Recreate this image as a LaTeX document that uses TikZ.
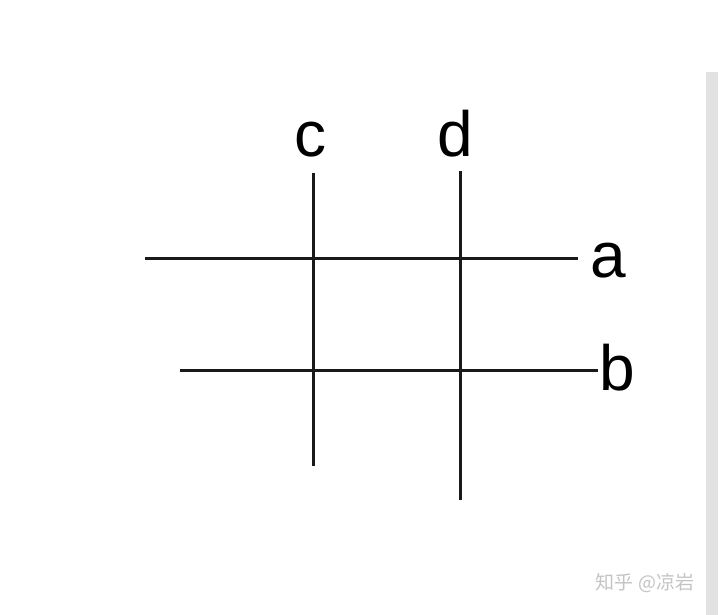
\documentclass[tikz,border=0pt]{standalone}
\usepackage{fontspec}
\setmainfont{Liberation Sans}
\newfontfamily\cjk{Noto Sans CJK SC}
\definecolor{barre}{HTML}{E2E2E2}
\definecolor{marque}{HTML}{C4C4C4}
\usetikzlibrary{calc}
\tikzset{fig/.style={
    line width=3pt,black!90}}
\tikzset{lettre/.style={
    font=\fontsize{64}{64}\selectfont,anchor=base,inner sep=0pt}}

\begin{document}
\begin{tikzpicture}[x=1pt,y=-1pt]

\useasboundingbox[fill=white] (0,0) rectangle (720,615);

\fill[barre] (706,72) rectangle (718,615);

\coordinate (A1) at (145,258);
\coordinate (A2) at (578,258);
\coordinate (B1) at (180,370);
\coordinate (B2) at (598,370);
\coordinate (C1) at (313,173);
\coordinate (C2) at (313,466);
\coordinate (D1) at (460,171);
\coordinate (D2) at (460,500);

\draw[fig] (A1) -- (A2);
\draw[fig] (B1) -- (B2);
\draw[fig] (C1) -- (C2);
\draw[fig] (D1) -- (D2);

\node[lettre] (a) at (608,277) {a};
\node[lettre] (b) at (617,390) {b};
\node[lettre] (c) at (310,157) {c};
\node[lettre] (d) at (455,157) {d};

\node[font=\cjk\fontsize{19}{19}\selectfont,text=marque] (zh) at (645,583) {知乎 @凉岩};

\end{tikzpicture}
\end{document}
